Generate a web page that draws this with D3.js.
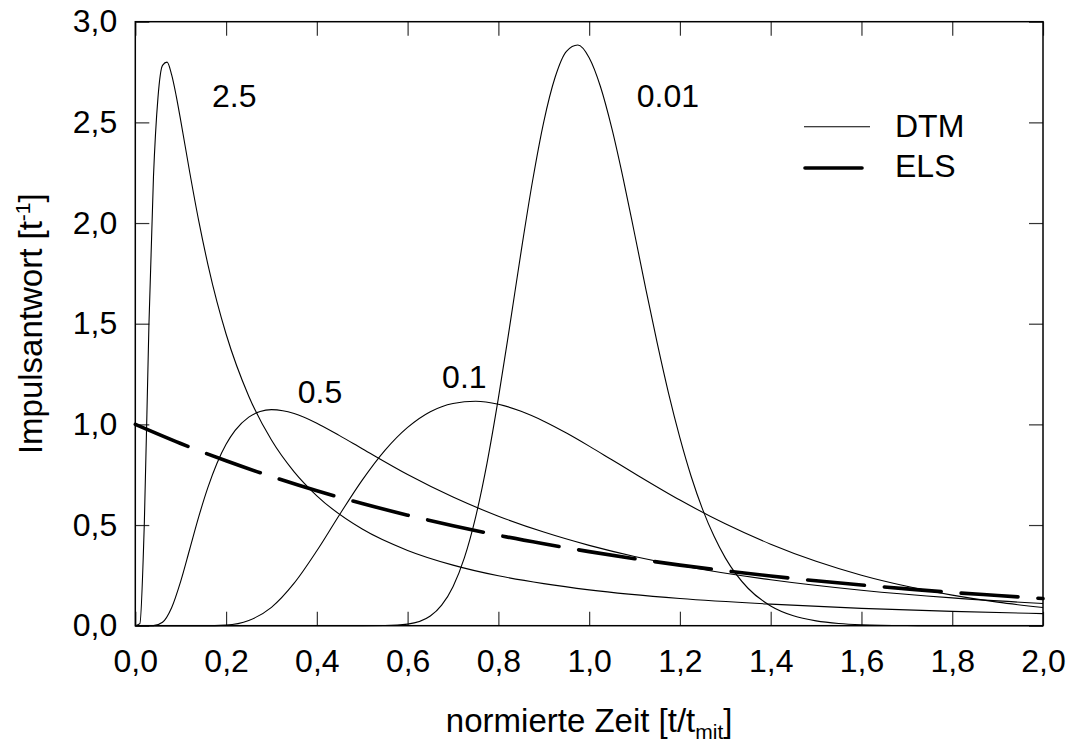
<!DOCTYPE html>
<html>
  <head>
    <meta charset="UTF-8">
    <title>Impulsantwort DTM / ELS</title>
    <script src="https://d3js.org/d3.v7.min.js"></script>
    <style>
      body { margin: 0; background: #fff; }
      text { font-family: Arial, "Liberation Sans", sans-serif; fill: #000; }
    </style>
  </head>
  <body>
    <svg width="1070" height="746"></svg>

    <script>

// DTM curves, one per dispersion number
const dtmNames = ["2.5", "0.5", "0.1", "0.01"];

const t25 = [0, 0.01, 0.02, 0.03, 0.04, 0.05, 0.06, 0.07, 0.08, 0.09, 0.10, 0.12, 0.14, 0.16, 0.18, 0.20, 0.25, 0.30, 0.35, 0.40, 0.50, 0.60, 0.70, 0.80, 0.90, 1.00, 1.20, 1.40, 1.60, 1.80, 2.00];
const e25 = [0, 0.010, 0.518, 1.492, 2.227, 2.624, 2.783, 2.799, 2.737, 2.633, 2.510, 2.251, 2.008, 1.794, 1.608, 1.449, 1.140, 0.922, 0.764, 0.645, 0.480, 0.374, 0.301, 0.248, 0.209, 0.178, 0.135, 0.107, 0.086, 0.071, 0.060];

const t05 = [0, 0.04, 0.06, 0.08, 0.10, 0.12, 0.14, 0.16, 0.18, 0.20, 0.22, 0.25, 0.275, 0.30, 0.325, 0.35, 0.40, 0.45, 0.50, 0.60, 0.70, 0.80, 0.90, 1.00, 1.10, 1.20, 1.40, 1.60, 1.80, 2.00];
const e05 = [0, 0.0005, 0.017, 0.089, 0.220, 0.381, 0.543, 0.687, 0.807, 0.901, 0.970, 1.036, 1.064, 1.073, 1.068, 1.054, 1.006, 0.944, 0.879, 0.751, 0.639, 0.544, 0.465, 0.399, 0.344, 0.299, 0.228, 0.176, 0.138, 0.110];

const t01 = [0, 0.15, 0.20, 0.25, 0.30, 0.35, 0.40, 0.45, 0.50, 0.55, 0.60, 0.65, 0.70, 0.75, 0.80, 0.85, 0.90, 0.95, 1.00, 1.05, 1.10, 1.20, 1.30, 1.40, 1.50, 1.60, 1.70, 1.80, 1.90, 2.00];
const e01 = [0, 0, 0.003, 0.026, 0.091, 0.211, 0.372, 0.551, 0.723, 0.871, 0.985, 1.063, 1.104, 1.115, 1.100, 1.065, 1.016, 0.957, 0.892, 0.824, 0.756, 0.624, 0.506, 0.405, 0.320, 0.251, 0.196, 0.152, 0.117, 0.090];

const t001 = [0, 0.50, 0.55, 0.60, 0.65, 0.675, 0.70, 0.725, 0.75, 0.775, 0.80, 0.825, 0.85, 0.875, 0.90, 0.925, 0.95, 0.975, 1.00, 1.025, 1.05, 1.075, 1.10, 1.125, 1.15, 1.175, 1.20, 1.225, 1.25, 1.275, 1.30, 1.35, 1.40, 1.45, 1.50, 1.55, 1.60, 1.70, 1.80, 2.00];
const e001 = [0, 0, 0.001, 0.008, 0.048, 0.102, 0.194, 0.337, 0.541, 0.808, 1.130, 1.488, 1.857, 2.205, 2.503, 2.724, 2.853, 2.884, 2.821, 2.677, 2.470, 2.221, 1.948, 1.671, 1.403, 1.154, 0.933, 0.740, 0.578, 0.445, 0.337, 0.186, 0.098, 0.049, 0.024, 0.011, 0.005, 0.001, 0, 0];

// ELS curve
const tEls = [0, 0.1, 0.2, 0.3, 0.4, 0.5, 0.6, 0.7, 0.8, 0.9, 1.0, 1.1, 1.2, 1.3, 1.4, 1.5, 1.6, 1.7, 1.8, 1.9, 2.0];
const eEls = [1.000, 0.905, 0.819, 0.741, 0.670, 0.607, 0.549, 0.497, 0.449, 0.407, 0.368, 0.333, 0.301, 0.273, 0.247, 0.223, 0.202, 0.183, 0.165, 0.150, 0.135];

const xTicks = [0, 0.2, 0.4, 0.6, 0.8, 1.0, 1.2, 1.4, 1.6, 1.8, 2.0];
const yTicks = [0, 0.5, 1.0, 1.5, 2.0, 2.5, 3.0];

// where the curve names sit (data units, left/baseline of text)
const namePos = [[0.169, 2.577], [0.358, 1.106], [0.676, 1.181], [1.105, 2.577]];

const dtm = [
  { name: dtmNames[0], t: t25, e: e25 },
  { name: dtmNames[1], t: t05, e: e05 },
  { name: dtmNames[2], t: t01, e: e01 },
  { name: dtmNames[3], t: t001, e: e001 }
];

const svg = d3.select("svg");
const margin = { left: 135.3, right: 1070 - 1043, top: 21.7, bottom: 746 - 625.7 };
const width = +svg.attr("width");
const height = +svg.attr("height");

const x = d3.scaleLinear().domain([0, 2]).range([margin.left, width - margin.right]);
const y = d3.scaleLinear().domain([0, 3]).range([height - margin.bottom, margin.top]);

const fmt = d => d3.format(".1f")(d).replace(".", ",");
const fs = 32;
const fsTitle = 33;

// axes, ticks inward on all four sides
svg.append("g")
  .attr("transform", `translate(0,${y(0)})`)
  .call(d3.axisBottom(x).tickValues(xTicks).tickFormat(fmt).tickSizeInner(-14).tickSizeOuter(0).tickPadding(24))
  .call(g => g.select(".domain").remove());

svg.append("g")
  .attr("transform", `translate(${x(0)},0)`)
  .call(d3.axisLeft(y).tickValues(yTicks).tickFormat(fmt).tickSizeInner(-14).tickSizeOuter(0).tickPadding(18))
  .call(g => g.select(".domain").remove());

svg.append("g")
  .attr("transform", `translate(0,${y(3)})`)
  .call(d3.axisTop(x).tickValues(xTicks).tickFormat("").tickSizeInner(-14).tickSizeOuter(0))
  .call(g => g.select(".domain").remove());

svg.append("g")
  .attr("transform", `translate(${x(2)},0)`)
  .call(d3.axisRight(y).tickValues(yTicks).tickFormat("").tickSizeInner(-14).tickSizeOuter(0))
  .call(g => g.select(".domain").remove());

svg.selectAll(".tick line").attr("stroke", "#333").attr("stroke-width", 1.2);
svg.selectAll(".tick text")
  .attr("font-size", fs)
  .attr("font-family", "Arial, 'Liberation Sans', sans-serif")
  .attr("fill", "#000");

svg.append("rect")
  .attr("x", x(0))
  .attr("y", y(3))
  .attr("width", x(2) - x(0))
  .attr("height", y(0) - y(3))
  .attr("fill", "none")
  .attr("stroke", "#000")
  .attr("stroke-width", 1.5);

const line = d3.line()
  .x(d => x(d[0]))
  .y(d => y(d[1]))
  .curve(d3.curveMonotoneX);

svg.append("g")
  .selectAll("path")
  .data(dtm)
  .join("path")
  .attr("d", d => line(d.t.map((t, i) => [t, d.e[i]])))
  .attr("fill", "none")
  .attr("stroke", "#000")
  .attr("stroke-width", 1.1);

svg.append("path")
  .attr("d", line(tEls.map((t, i) => [t, eEls[i]])))
  .attr("fill", "none")
  .attr("stroke", "#000")
  .attr("stroke-width", 3.6)
  .attr("stroke-linecap", "round")
  .attr("stroke-dasharray", "57,20");

// curve names
svg.append("g")
  .selectAll("text")
  .data(dtm)
  .join("text")
  .attr("x", (d, i) => x(namePos[i][0]))
  .attr("y", (d, i) => y(namePos[i][1]))
  .attr("font-size", fs)
  .text(d => d.name);

// legend
const legend = svg.append("g");
legend.append("line")
  .attr("x1", 804).attr("x2", 870).attr("y1", 126.7).attr("y2", 126.7)
  .attr("stroke", "#000").attr("stroke-width", 1.1);
legend.append("text").attr("x", 895).attr("y", 137).attr("font-size", fs).text("DTM");
legend.append("line")
  .attr("x1", 805).attr("x2", 862).attr("y1", 168).attr("y2", 168)
  .attr("stroke", "#000").attr("stroke-width", 3.6).attr("stroke-linecap", "round");
legend.append("text").attr("x", 895).attr("y", 177).attr("font-size", fs).text("ELS");

// axis titles
const xTitle = svg.append("text")
  .attr("x", (x(0) + x(2)) / 2)
  .attr("y", 732)
  .attr("text-anchor", "middle")
  .attr("font-size", fsTitle);
xTitle.append("tspan").text("normierte Zeit [t/t");
xTitle.append("tspan").attr("font-size", 21).attr("dy", 7).text("mit");
xTitle.append("tspan").attr("dy", -7).text("]");

const yTitle = svg.append("text")
  .attr("transform", `translate(42,${(y(0) + y(3)) / 2}) rotate(-90)`)
  .attr("text-anchor", "middle")
  .attr("font-size", fsTitle);
yTitle.append("tspan").text("Impulsantwort [t");
yTitle.append("tspan").attr("font-size", 21).attr("dy", -12).text("-1");
yTitle.append("tspan").attr("dy", 12).text("]");

    </script>
  </body>
</html>
